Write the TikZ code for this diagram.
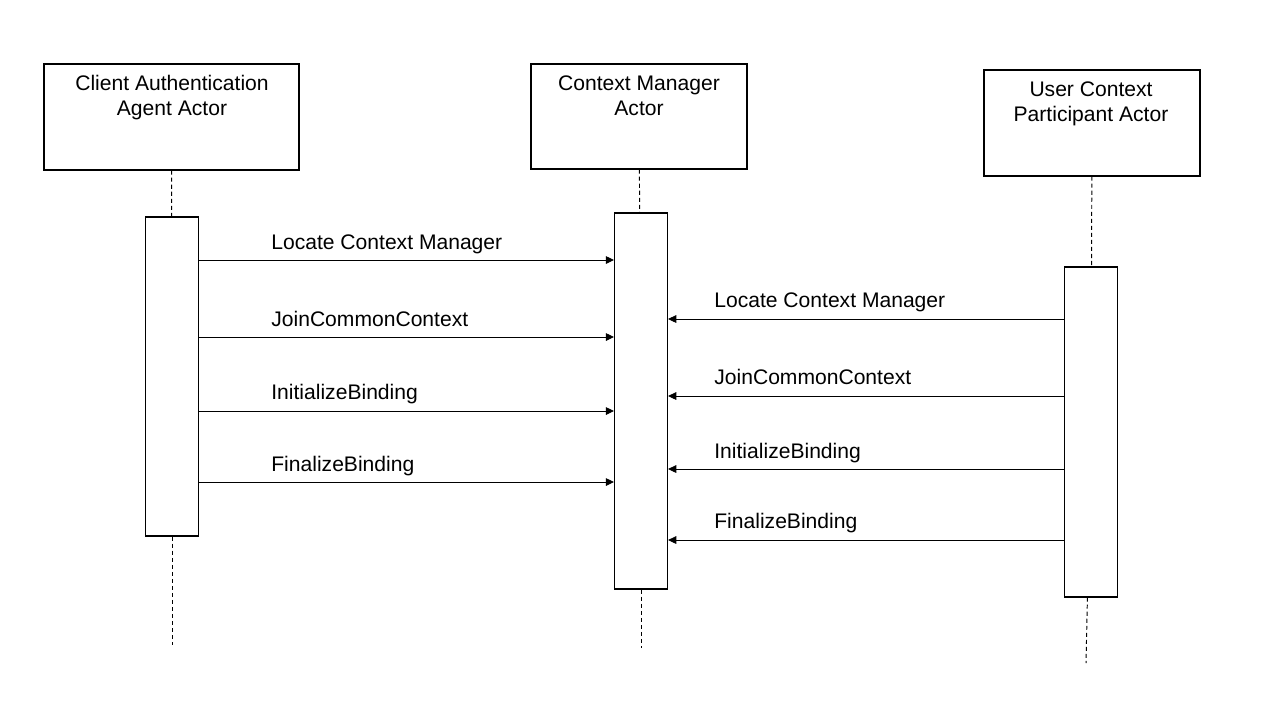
\documentclass[tikz,border=0pt]{standalone}
\usepackage{fontspec}
\setmainfont{Liberation Sans}
\usepackage{tikz}
\usetikzlibrary{arrows.meta}
\usetikzlibrary{positioning}
\usetikzlibrary{calc}

\begin{document}
\begin{tikzpicture}[x=0.02cm,y=-0.02cm,font=\fontsize{12}{14.2}\selectfont]
      \useasboundingbox (0,0) rectangle (1280,720);
      % actor boxes
      \begin{scope}[every node/.style={draw,line width=0.75pt,inner sep=0pt}]
        \node[minimum width=255*0.02cm,minimum height=106*0.02cm] (cam) at (171.5,117) {};
        \node[minimum width=216*0.02cm,minimum height=105*0.02cm] (cm) at (639,116.5) {};
        \node[minimum width=216*0.02cm,minimum height=106*0.02cm] (ucp) at (1092,123) {};
      \end{scope}
      \begin{scope}[every node/.style={align=center,inner sep=0pt,anchor=north}]
        \node (camtext) at (172,75) {Client Authentication\\Agent Actor};
        \node (cmtext) at (639,75) {Context Manager\\Actor};
        \node (ucptext) at (1091,81) {User Context\\Participant Actor};
      \end{scope}
      % activation bars
      \begin{scope}[every node/.style={draw,line width=0.75pt,inner sep=0pt,minimum width=53*0.02cm}]
        \node[minimum height=319*0.02cm] (actA) at (172,376.5) {};
        \node[minimum height=376*0.02cm] (actB) at (641,401) {};
        \node[minimum height=330*0.02cm] (actC) at (1091,432) {};
      \end{scope}
      \coordinate (endA) at (172,645);
      \coordinate (endB) at (641,648);
      \coordinate (endC) at (1086,663);
      % lifelines
      \begin{scope}[every edge/.style={draw=black,line width=0.55pt,dash pattern=on 2.3pt off 1.7pt}]
        \path (cam) edge (actA);
        \path (actA) edge (endA);
        \path (cm) edge (actB);
        \path (actB) edge (endB);
        \path (ucp) edge (actC);
        \path (actC) edge (endC);
      \end{scope}
      % messages
      \begin{scope}[every edge/.style={draw=black,line width=0.5pt,-{Triangle[length=4.6pt,width=4.4pt]}}]
        \path (actA.east |- 0,260) edge (actB.west |- 0,260);
        \path (actA.east |- 0,337) edge (actB.west |- 0,337);
        \path (actA.east |- 0,411) edge (actB.west |- 0,411);
        \path (actA.east |- 0,482) edge (actB.west |- 0,482);
        \path (actC.west |- 0,319) edge (actB.east |- 0,319);
        \path (actC.west |- 0,396) edge (actB.east |- 0,396);
        \path (actC.west |- 0,469) edge (actB.east |- 0,469);
        \path (actC.west |- 0,540) edge (actB.east |- 0,540);
      \end{scope}
      \begin{scope}[every node/.style={anchor=base west,inner sep=0pt}]
        \node (m1) at (271,249) {Locate Context Manager};
        \node (m2) at (271,326) {JoinCommonContext};
        \node (m3) at (271,399) {InitializeBinding};
        \node (m4) at (271,471) {FinalizeBinding};
        \node (r1) at (714,307) {Locate Context Manager};
        \node (r2) at (714,384) {JoinCommonContext};
        \node (r3) at (714,458) {InitializeBinding};
        \node (r4) at (714,528) {FinalizeBinding};
      \end{scope}
    \end{tikzpicture}
\end{document}
